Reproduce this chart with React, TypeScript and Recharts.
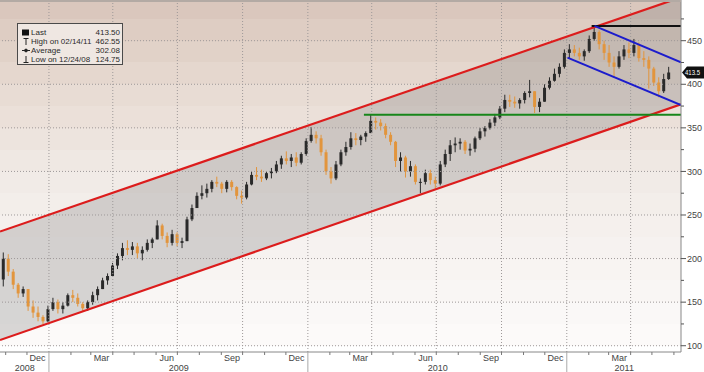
import { ComposedChart, Bar, Area, XAxis, YAxis, CartesianGrid, ReferenceLine } from "recharts";

// weekly bars, first bar is the week starting on this Monday
const firstWeek = "2008-10-27";
const firstOpen = 176;

const weeklyHigh = [
  207, 205, 188, 172, 168, 165, 152, 145, 135, 146,
  155, 153, 150, 160, 164, 160, 150, 152, 162, 168, 178, 183, 195, 206, 218, 221, 219, 218, 214, 222,
  224, 244, 240, 230, 233, 230, 224, 248, 262, 276, 284, 286, 290, 294, 288, 290, 290, 283, 278, 288,
  300, 305, 302, 300, 304, 312, 318, 323, 320, 322, 322, 338,
  351, 346, 342, 325, 305, 312, 325, 334, 345, 344, 342, 346, 365, 362, 360, 355, 345, 335, 322, 318,
  312, 308, 292, 302, 302, 294, 312, 325, 336, 339, 338, 336, 332, 340, 350, 352, 360, 366, 375, 388,
  388, 386, 384, 392, 405, 392, 384, 400, 408, 418, 424, 440,
  446, 445, 442, 440, 456, 466, 462, 450, 445, 432, 438, 445, 448, 452, 448, 438, 432, 420, 408, 412, 420,
];

const weeklyLow = [
  168, 180, 165, 155, 156, 140, 132, 128, 124.75, 127,
  140, 137, 137, 145, 150, 145, 139, 140, 147, 152, 165, 170, 180, 188, 198, 204, 204, 200, 198, 208,
  212, 222, 222, 213, 215, 214, 212, 220, 243, 258, 268, 270, 276, 282, 275, 276, 278, 268, 263, 268,
  284, 290, 288, 290, 292, 298, 303, 308, 305, 306, 308, 318,
  333, 332, 318, 296, 286, 290, 306, 318, 325, 330, 330, 334, 344, 348, 347, 338, 330, 305, 300, 293,
  294, 285, 275, 285, 285, 280, 284, 305, 312, 322, 325, 320, 318, 322, 336, 340, 348, 352, 360, 368,
  374, 373, 372, 378, 385, 367, 368, 380, 394, 403, 408, 418,
  430, 432, 428, 427, 436, 450, 440, 428, 420, 408, 418, 428, 430, 432, 426, 420, 395, 398, 385, 390, 405,
];

const weeklyClose = [
  200, 185, 170, 160, 165, 145, 138, 133, 128, 142,
  150, 142, 146, 158, 155, 148, 143, 150, 158, 165, 175, 180, 192, 203, 212, 210, 214, 206, 210, 218,
  222, 238, 226, 218, 228, 218, 220, 245, 258, 272, 275, 280, 288, 286, 280, 288, 282, 272, 270, 285,
  296, 294, 292, 298, 300, 308, 315, 312, 316, 310, 320, 335,
  342, 338, 322, 300, 292, 308, 322, 328, 338, 336, 340, 344, 358, 356, 352, 342, 334, 312, 316, 300,
  306, 288, 288, 298, 290, 286, 308, 320, 330, 332, 334, 324, 326, 338, 346, 350, 356, 362, 372, 382,
  380, 378, 382, 390, 392, 374, 380, 396, 404, 412, 420, 436,
  440, 436, 432, 438, 452, 460, 446, 436, 425, 420, 432, 440, 436, 445, 430, 428, 418, 402, 392, 406, 413.5,
];

const viewStart = "2008-10-24";
const viewEnd = "2011-06-11";

// trend channel, values at viewStart and viewEnd
const channelLower = [106.5, 376.9];
const channelUpper = [231, 499.8];

type Seg = [string, number][];
const supportLine: Seg = [["2010-03-21", 365], ["2011-06-11", 365]];
const highLine: Seg = [["2011-02-05", 467], ["2011-06-11", 467]];
const blueUpper: Seg = [["2011-02-09", 467], ["2011-06-11", 425.2]];
const blueLower: Seg = [["2011-01-02", 430.5], ["2011-06-11", 376.2]];

const yTicks = [100, 125, 150, 175, 200, 225, 250, 275, 300, 325, 350, 375, 400, 425, 450, 475];
const gridLevels = [100, 150, 200, 250, 300, 350, 400, 450];
const gridDates = [
  "2009-01-01", "2009-04-01", "2009-07-01", "2009-10-01", "2010-01-01", "2010-04-01",
  "2010-07-01", "2010-10-01", "2011-01-01", "2011-04-01",
];
const monthNames = ["Jan", "Feb", "Mar", "Apr", "May", "Jun", "Jul", "Aug", "Sep", "Oct", "Nov", "Dec"];
const labelledMonths = ["Dec", "Mar", "Jun", "Sep"];
const years = ["2008", "2009", "2010", "2011"];

const lastPrice = 413.5;
const legendLabels = ["Last", "High on 02/14/11", "Average", "Low on 12/24/08"];
const legendValues = ["413.50", "462.55", "302.08", "124.75"];

const bandFills = [
  "#dac7bd", "#decdc3", "#e1d2c8", "#e5d7ce", "#e8dcd4", "#ebe0d9", "#ede4de", "#efe8e3", "#f1ebe7",
  "#f3eeea", "#f5f0ed", "#f6f2f0", "#f8f4f2", "#f9f6f4", "#faf8f7", "#fcfaf9", "#ffffff",
];

const UP = "#2a2a2a";
const DOWN = "#e2953d";
const FONT = "'Liberation Sans', Arial, sans-serif";

const day = (iso: string) =>
  Date.UTC(+iso.slice(0, 4), +iso.slice(5, 7) - 1, +iso.slice(8, 10)) / 86400000;

const candles = weeklyClose.map((c, i) => ({
  d: day(firstWeek) + 7 * i + 2,
  range: [weeklyLow[i], weeklyHigh[i]],
  o: i === 0 ? firstOpen : weeklyClose[i - 1],
  h: weeklyHigh[i],
  l: weeklyLow[i],
  c,
}));

const data = [
  { d: day(viewStart), chan: [channelLower[0], channelUpper[0]] },
  ...candles,
  { d: day(viewEnd), chan: [channelLower[1], channelUpper[1]] },
];

// x axis ticks: month marks, year separators, quarter labels, year labels
const xTickInfo = new Map<number, { kind: string; text?: string }>();
for (let y = 2008; y <= 2011; y++) {
  for (let m = 0; m < 12; m++) {
    const start = Date.UTC(y, m, 1) / 86400000;
    if (start < day(viewStart) || start > day(viewEnd)) continue;
    xTickInfo.set(start, { kind: m === 0 ? "year" : "month" });
    if (labelledMonths.includes(monthNames[m])) {
      const mid = Date.UTC(y, m, 16) / 86400000;
      if (mid <= day(viewEnd)) xTickInfo.set(mid, { kind: "label", text: monthNames[m] });
    }
  }
}
years.forEach((yr) => {
  const a = Math.max(day(`${yr}-01-01`), day(viewStart));
  const b = Math.min(day(`${+yr + 1}-01-01`), day(viewEnd));
  xTickInfo.set(Math.round((a + b) / 2), { kind: "yearLabel", text: yr });
});
const xTicks = [...xTickInfo.keys()].sort((a, b) => a - b);

const seg = (s: Seg) => s.map(([d, v]) => ({ x: day(d), y: v }));

const XTick = (props: any) => {
  const { x, y, payload } = props;
  const info = xTickInfo.get(payload.value);
  if (!info) return <g />;
  if (info.kind === "month") return <line x1={x} x2={x} y1={y} y2={y + 3} stroke="#777" />;
  if (info.kind === "year") return <line x1={x} x2={x} y1={y} y2={y + 20} stroke="#aaa" />;
  return (
    <text
      x={x}
      y={info.kind === "label" ? y + 9 : y + 19}
      textAnchor="middle"
      fontSize={9}
      fontFamily={FONT}
      fill="#444"
    >
      {info.text}
    </text>
  );
};

const YTick = (props: any) => {
  const { x, y, payload } = props;
  const major = payload.value % 50 === 0;
  return (
    <g>
      <line x1={x} x2={x + (major ? 5 : 3)} y1={y} y2={y} stroke="#555" />
      {major && (
        <text x={x + 6} y={y} dy="0.35em" fontSize={9} fontFamily={FONT} fill="#444">
          {payload.value}
        </text>
      )}
    </g>
  );
};

const Candle = (props: any) => {
  const { x, y, width, height, payload } = props;
  if (payload == null || payload.o == null) return <g />;
  const top = Math.min(y, y + height);
  const bot = Math.max(y, y + height);
  const span = payload.h - payload.l || 1;
  const py = (v: number) => top + ((payload.h - v) / span) * (bot - top);
  const cx = x + width / 2;
  const col = payload.c >= payload.o ? UP : DOWN;
  const bTop = py(Math.max(payload.o, payload.c));
  const bBot = py(Math.min(payload.o, payload.c));
  return (
    <g>
      <line x1={cx} x2={cx} y1={top} y2={bot} stroke={col} strokeWidth={1} />
      <rect x={cx - 1.5} y={bTop} width={3} height={Math.max(1, bBot - bTop)} fill={col} />
    </g>
  );
};

const LastTag = (props: any) => {
  const vb = props.viewBox || {};
  const x = (vb.x ?? 0) + (vb.width ?? 0) + 1;
  const y = vb.y ?? 0;
  return (
    <g>
      <polygon
        points={`${x},${y} ${x + 5},${y - 6} ${x + 22},${y - 6} ${x + 22},${y + 6} ${x + 5},${y + 6}`}
        fill="#111"
      />
      <text
        x={x + 3}
        y={y}
        dy="0.35em"
        fontSize={7}
        fontFamily={FONT}
        fill="#fff"
        textLength={15}
        lengthAdjust="spacingAndGlyphs"
      >
        {lastPrice}
      </text>
    </g>
  );
};

const LegendIcon = ({ i }: { i: number }) => (
  <svg width={8} height={9} style={{ display: "block" }}>
    {i === 0 && <rect x={0} y={1.5} width={7} height={6} fill="#111" />}
    {i === 1 && (
      <g stroke="#222">
        <line x1={1.5} x2={6.5} y1={1.5} y2={1.5} />
        <line x1={4} x2={4} y1={1.5} y2={8} />
      </g>
    )}
    {i === 2 && (
      <g stroke="#222" fill="#222">
        <line x1={0} x2={8} y1={4.5} y2={4.5} />
        <circle cx={4} cy={4.5} r={1.4} />
      </g>
    )}
    {i === 3 && (
      <g stroke="#222">
        <line x1={4} x2={4} y1={1} y2={7.5} />
        <line x1={1.5} x2={6.5} y1={7.5} y2={7.5} />
      </g>
    )}
  </svg>
);

export default function App() {
  return (
    <div
      style={{
        position: "absolute",
        left: 0,
        top: 0,
        width: 704,
        height: 372,
        background: "#fff",
        overflow: "hidden",
      }}
    >
      <ComposedChart width={704} height={372} data={data} margin={{ top: 0, right: 0, bottom: 0, left: 0 }}>
        <CartesianGrid vertical={false} stroke="none" horizontalFill={bandFills} fillOpacity={1} />
        <XAxis
          dataKey="d"
          type="number"
          scale="linear"
          domain={[day(viewStart), day(viewEnd)]}
          allowDataOverflow
          ticks={xTicks}
          interval={0}
          tick={<XTick />}
          tickLine={false}
          tickSize={0}
          tickMargin={0}
          height={20}
          axisLine={{ stroke: "#888" }}
        />
        <YAxis
          orientation="right"
          type="number"
          width={23}
          domain={[92.8, 496.7]}
          allowDataOverflow
          ticks={yTicks}
          interval={0}
          tick={<YTick />}
          tickLine={false}
          tickSize={0}
          tickMargin={0}
          axisLine={{ stroke: "#888" }}
        />
        {gridLevels.map((v) => (
          <ReferenceLine key={`h${v}`} y={v} stroke="#9d9898" strokeDasharray="1 2" />
        ))}
        {gridDates.map((g) => (
          <ReferenceLine key={g} x={day(g)} stroke="#9d9898" strokeDasharray="1 2" />
        ))}
        <Area
          dataKey="chan"
          type="linear"
          connectNulls
          stroke="none"
          fill="#7a7a7a"
          fillOpacity={0.28}
          isAnimationActive={false}
        />
        <Bar dataKey="range" barSize={3} shape={<Candle />} isAnimationActive={false} />
        <ReferenceLine
          segment={[{ x: day(viewStart), y: channelUpper[0] }, { x: day(viewEnd), y: channelUpper[1] }]}
          stroke="#dc1c1c"
          strokeWidth={2.2}
          ifOverflow="hidden"
        />
        <ReferenceLine
          segment={[{ x: day(viewStart), y: channelLower[0] }, { x: day(viewEnd), y: channelLower[1] }]}
          stroke="#dc1c1c"
          strokeWidth={2.2}
          ifOverflow="hidden"
        />
        <ReferenceLine segment={seg(supportLine)} stroke="#17861a" strokeWidth={2} ifOverflow="hidden" />
        <ReferenceLine segment={seg(highLine)} stroke="#111" strokeWidth={2} ifOverflow="hidden" />
        <ReferenceLine segment={seg(blueUpper)} stroke="#1c1ccc" strokeWidth={2} ifOverflow="hidden" />
        <ReferenceLine segment={seg(blueLower)} stroke="#1c1ccc" strokeWidth={2} ifOverflow="hidden" />
        <ReferenceLine y={lastPrice} stroke="none" label={<LastTag />} />
      </ComposedChart>
      <div style={{ position: "absolute", left: 0, top: 0, width: 681, height: 2, background: "#b3aaa4" }} />
      <div
        style={{
          position: "absolute",
          left: 17,
          top: 23,
          width: 106,
          height: 42,
          boxSizing: "border-box",
          border: "1px solid #4a4a4a",
          background: "#efe7e2",
          padding: "4px 2px 0 4px",
          fontFamily: FONT,
          fontSize: 8,
          color: "#2a2a2a",
        }}
      >
        {legendLabels.map((lab, i) => (
          <div key={lab} style={{ display: "flex", alignItems: "center", height: 9, lineHeight: "9px" }}>
            <LegendIcon i={i} />
            <span style={{ marginLeft: 1, flex: 1, whiteSpace: "nowrap" }}>{lab}</span>
            <span>{legendValues[i]}</span>
          </div>
        ))}
      </div>
    </div>
  );
}
